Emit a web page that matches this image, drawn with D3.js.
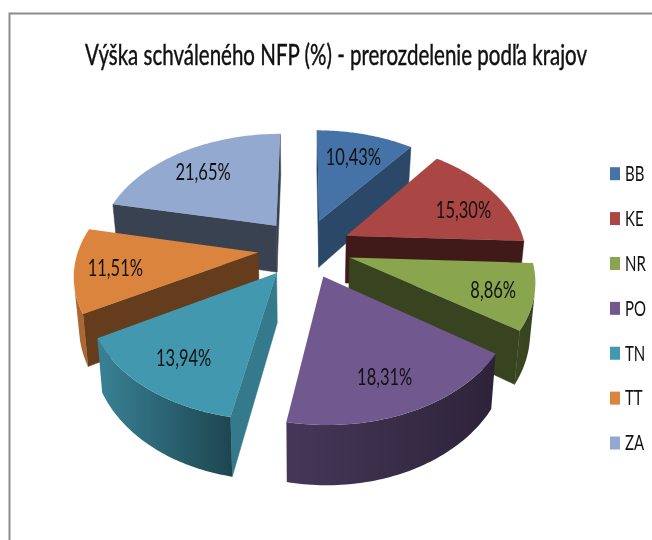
<!DOCTYPE html>
<html><head><meta charset="utf-8">
<script src="https://cdn.jsdelivr.net/npm/d3@7"></script>
<style>html,body{margin:0;padding:0;background:#fff}svg{display:block;filter:blur(.35px)}text{font-family:Lato,"Open Sans",sans-serif;fill:#111}</style>
</head><body><svg id="c" width="652" height="540"></svg>
<script>
const titleText = "Výška schváleného NFP (%) - prerozdelenie podľa krajov";
const categories = ["BB","KE","NR","PO","TN","TT","ZA"];
const values = [10.43,15.30,8.86,18.31,13.94,11.51,21.65];
const labels = ["10,43%","15,30%","8,86%","18,31%","13,94%","11,51%","21,65%"];
const colors = ["#4572A7","#AA4643","#89A54E","#71588F","#4198AF","#DB843D","#93A9CF"];
const radialShade = [.63,.37,.41,.5,.8,.46,.39];
const wallShadeStart = [.45,.37,.4,.4,.46,.78,.4];
const wallShadeEnd = [.45,.37,.42,.62,.85,.8,.4];
const labelRadius = [.71,.74,.79,.77,.76,.78,.72];
const labelTurn = [0,6,1,1.5,-1,-1,-2];

const svg = d3.select("#c");
const defs = svg.append("defs");
const EXPLODE = .26, PERSP = .164, DEPTH = 48, TAPER = .023, VS = 1.35;
const sx = d3.scaleLinear().domain([-1,1]).range([304.7-179.4,304.7+179.4]);
const sy = d3.scaleLinear().domain([-1,1]).range([248+113.7,248-113.7]);
const u0 = sx(0), v0 = sy(0);
// perspective projection of a point on the pie plane; z=0 top face, z=1 bottom
function project(X,Y,z){
  const w = 1+PERSP*Y;
  return [u0+(sx(X)-u0)/w*(1-TAPER*z), v0+(sy(Y)-v0)/w+z*DEPTH/w];
}
const arcs = d3.pie().sort(null).startAngle(0).endAngle(2*Math.PI)(values);
const line = d3.line().curve(d3.curveLinearClosed);
const shade = (c,f)=>{const r=d3.rgb(c);return d3.rgb(r.r*f,r.g*f,r.b*f).formatHex();};

// frame
svg.append("path").attr("d","M9.5,540V13.5H652").attr("fill","none").attr("stroke","#8c8c8c").attr("stroke-width",2);

// back-to-front
const order = arcs.map((a,i)=>({a,i,mid:(a.startAngle+a.endAngle)/2}))
  .sort((p,q)=>Math.cos(q.mid)-Math.cos(p.mid));
const STEPS = 60;
const pieG = svg.append("g");
order.forEach(({a,i,mid})=>{
  const ox=EXPLODE*Math.sin(mid), oy=EXPLODE*Math.cos(mid);
  const rim = d3.range(STEPS+1).map(k=>a.startAngle+(a.endAngle-a.startAngle)*k/STEPS);
  const pts = [[ox,oy]].concat(rim.map(t=>[ox+Math.sin(t),oy+Math.cos(t)]));
  const g = pieG.append("g").attr("class","slice-"+categories[i]);
  const n = pts.length;
  const quad = (A,B)=>[project(A[0],A[1],0),project(B[0],B[1],0),project(B[0],B[1],1),project(A[0],A[1],1)];
  // radial faces
  [[0,1],[n-1,0]].forEach(([s,e])=>{
    const q=quad(pts[s],pts[e]);
    if(d3.polygonArea(q)<=0.001) return;
    const col=shade(colors[i],radialShade[i]);
    g.append("path").attr("d",line(q)).attr("fill",col).attr("stroke",col).attr("stroke-width",.5);
  });
  // outer wall: the visible run of rim points, one gradient-filled shape
  const vis=[];
  for(let k=1;k<n-1;k++){ if(d3.polygonArea(quad(pts[k],pts[k+1]))>0.001) vis.push(k); }
  if(vis.length){
    const run=pts.slice(vis[0],vis[vis.length-1]+2);
    const topP=run.map(p=>project(p[0],p[1],0)), botP=run.map(p=>project(p[0],p[1],1));
    const id="wall"+i;
    const lg=defs.append("linearGradient").attr("id",id).attr("gradientUnits","userSpaceOnUse")
      .attr("x1",topP[0][0]).attr("y1",0).attr("x2",topP[topP.length-1][0]).attr("y2",0);
    const fA=wallShadeStart[i]+(wallShadeEnd[i]-wallShadeStart[i])*(vis[0]-1)/(STEPS-1);
    const fB=wallShadeStart[i]+(wallShadeEnd[i]-wallShadeStart[i])*(vis[vis.length-1])/(STEPS-1);
    lg.append("stop").attr("offset",0).attr("stop-color",shade(colors[i],fA));
    lg.append("stop").attr("offset",1).attr("stop-color",shade(colors[i],fB));
    g.append("path").attr("d",line(topP.concat(botP.reverse()))).attr("fill",`url(#${id})`);
  }
  g.append("path").attr("d",line(pts.map(p=>project(p[0],p[1],0)))).attr("fill",colors[i]);
});
// data labels
arcs.forEach((a,i)=>{
  const mid=(a.startAngle+a.endAngle)/2, t=mid+labelTurn[i]*Math.PI/180, r=labelRadius[i];
  const p=project(EXPLODE*Math.sin(mid)+r*Math.sin(t),EXPLODE*Math.cos(mid)+r*Math.cos(t),0);
  svg.append("text").attr("transform",`translate(${p[0]},${p[1]}) scale(1,${VS})`)
    .attr("text-anchor","middle").attr("dy",".36em").attr("font-size",16.5).text(labels[i]);
});
// legend
const ly = d3.scalePoint().domain(categories).range([173.7,443]);
categories.forEach((c,i)=>{
  svg.append("rect").attr("x",610).attr("y",ly(c)-6.5).attr("width",10).attr("height",13).attr("fill",colors[i]);
  svg.append("text").attr("transform",`translate(625,${ly(c)}) scale(1,${VS})`)
    .attr("dy",".36em").attr("font-size",15).text(c);
});
// title
svg.append("text").attr("transform",`translate(336,55) scale(1,1.3)`)
  .attr("text-anchor","middle").attr("dy",".36em").attr("font-size",22)
  .attr("textLength",502).attr("lengthAdjust","spacingAndGlyphs")
  .attr("stroke","#111").attr("stroke-width",.35).text(titleText);
</script></body></html>
